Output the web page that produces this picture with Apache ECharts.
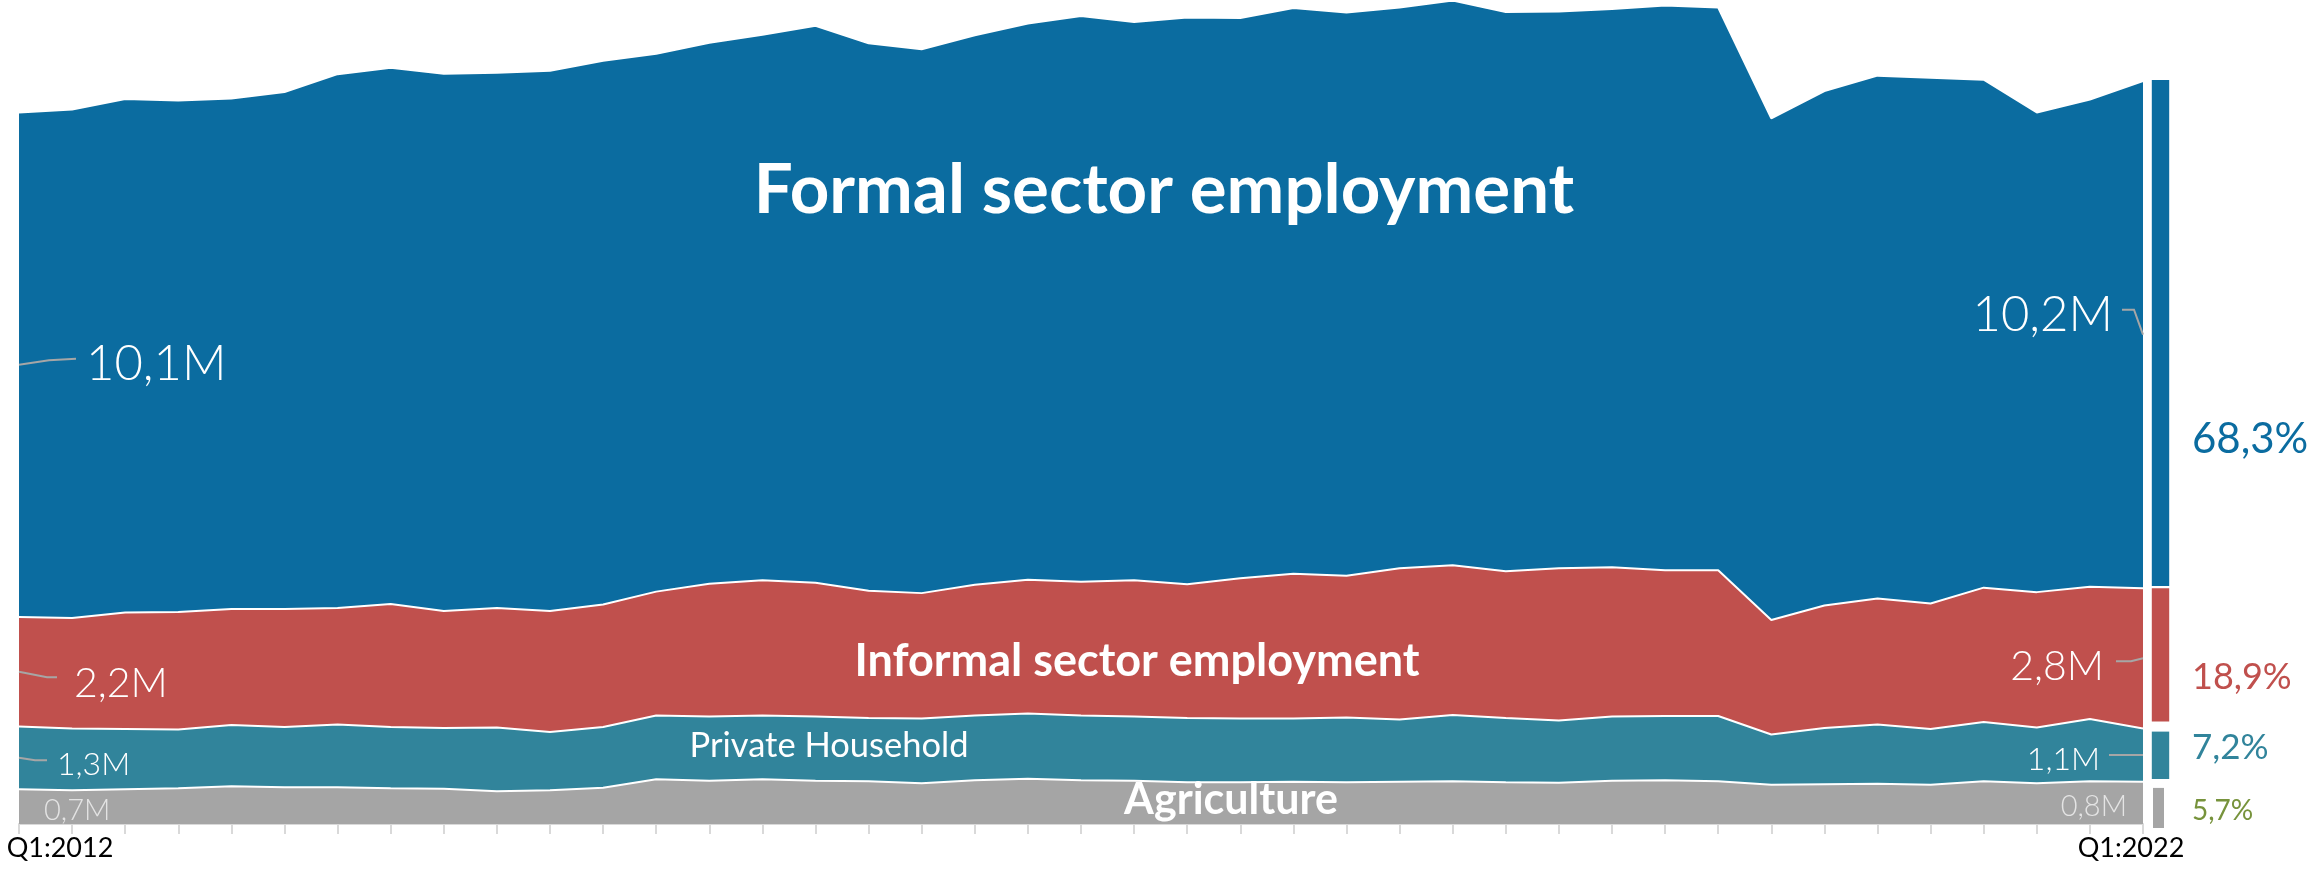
<!DOCTYPE html>
<html>
<head>
<meta charset="utf-8">
<title>Employment by sector, Q1:2012 – Q1:2022</title>
<script src="https://cdn.jsdelivr.net/npm/echarts@6/dist/echarts.min.js"></script>
<style>
  html, body { margin: 0; padding: 0; background: #ffffff; }
  #chart { width: 2310px; height: 869px; }
</style>
</head>
<body>
<div id="chart"></div>
<script>
// Quarterly employment (millions) by sector
const quarters = [
  'Q1:2012', 'Q2:2012', 'Q3:2012', 'Q4:2012',
  'Q1:2013', 'Q2:2013', 'Q3:2013', 'Q4:2013',
  'Q1:2014', 'Q2:2014', 'Q3:2014', 'Q4:2014',
  'Q1:2015', 'Q2:2015', 'Q3:2015', 'Q4:2015',
  'Q1:2016', 'Q2:2016', 'Q3:2016', 'Q4:2016',
  'Q1:2017', 'Q2:2017', 'Q3:2017', 'Q4:2017',
  'Q1:2018', 'Q2:2018', 'Q3:2018', 'Q4:2018',
  'Q1:2019', 'Q2:2019', 'Q3:2019', 'Q4:2019',
  'Q1:2020', 'Q2:2020', 'Q3:2020', 'Q4:2020',
  'Q1:2021', 'Q2:2021', 'Q3:2021', 'Q4:2021',
  'Q1:2022'
];

const formal = [
  10.14, 10.22, 10.32, 10.28, 10.26, 10.39, 10.73, 10.78, 10.80, 10.76,
  10.86, 10.93, 10.81, 10.87, 10.96, 11.19, 11.00, 10.93, 11.04, 11.18,
  11.37, 11.22, 11.39, 11.26, 11.37, 11.32, 11.27, 11.35, 11.24, 11.19,
  11.22, 11.35, 11.31, 10.08, 10.34, 10.51, 10.57, 10.21, 9.64, 9.79,
  10.19
];

const informal = [
  2.20, 2.22, 2.34, 2.36, 2.33, 2.37, 2.34, 2.47, 2.35, 2.40,
  2.43, 2.46, 2.49, 2.67, 2.72, 2.69, 2.56, 2.52, 2.63, 2.69,
  2.69, 2.74, 2.69, 2.82, 2.91, 2.85, 3.04, 3.01, 2.95, 3.06,
  3.00, 2.93, 2.93, 2.30, 2.46, 2.53, 2.52, 2.70, 2.72, 2.66,
  2.82
];

const household = [
  1.26, 1.24, 1.21, 1.18, 1.23, 1.21, 1.26, 1.23, 1.22, 1.28,
  1.17, 1.22, 1.28, 1.29, 1.28, 1.29, 1.27, 1.30, 1.30, 1.31,
  1.30, 1.29, 1.29, 1.28, 1.27, 1.30, 1.25, 1.33, 1.29, 1.25,
  1.29, 1.29, 1.31, 1.01, 1.13, 1.19, 1.12, 1.19, 1.12, 1.25,
  1.07
];

const agriculture = [
  0.70, 0.68, 0.70, 0.72, 0.76, 0.74, 0.74, 0.72, 0.71, 0.66,
  0.68, 0.73, 0.90, 0.87, 0.90, 0.87, 0.86, 0.82, 0.88, 0.91,
  0.88, 0.87, 0.84, 0.84, 0.85, 0.84, 0.85, 0.86, 0.84, 0.83,
  0.87, 0.88, 0.86, 0.79, 0.80, 0.81, 0.79, 0.86, 0.82, 0.86,
  0.85
];

const sectorNames = ['Formal sector employment', 'Informal sector employment', 'Private Household', 'Agriculture'];
// Share of total employment in Q1:2022, same order as sectorNames
const shares2022 = [68.3, 18.9, 7.2, 5.7];

const FONT = 'Lato, "Noto Sans", sans-serif';
const palette = ['#0b6ca0', '#c0504d', '#31849b', '#a5a5a5'];

// Stack layers, bottom to top
const layers = [
  { name: sectorNames[3], data: agriculture, color: palette[3], z: 6 },
  { name: sectorNames[2], data: household, color: palette[2], z: 5 },
  { name: sectorNames[1], data: informal, color: palette[1], z: 4 },
  { name: sectorNames[0], data: formal, color: palette[0], z: 3 }
];

// Share bar: segments bottom to top (indexes into shares2022)
const barOrder = [3, 2, 1, 0];
let running = 0;
const barData = barOrder.map(k => {
  const start = running;
  running += shares2022[k];
  return { value: [0, start, running, k] };
});
const barTotal = running;

// Look of each share segment and its percentage label (indexed like sectorNames)
const barLook = [
  { fill: palette[0], text: '#0b6ca0', insetTop: 0,  insetBottom: 4.4, width: 17.4, shift: 0,  size: 42, dy: 104 },
  { fill: palette[1], text: '#c0504d', insetTop: -2, insetBottom: 10,  width: 17.4, shift: 0,  size: 36, dy: 16 },
  { fill: palette[2], text: '#31849b', insetTop: 0,  insetBottom: 6.4, width: 17.4, shift: 0,  size: 35, dy: -11 },
  { fill: palette[3], text: '#77933c', insetTop: 2.5, insetBottom: 0,  width: 11,   shift: -2, size: 28, dy: 4 }
];

const fmtM = v => v.toFixed(1).replace('.', ',') + 'M';
const fmtPct = v => v.toFixed(1).replace('.', ',') + '%';

const chart = echarts.init(document.getElementById('chart'), null, { renderer: 'canvas' });

const lastIdx = quarters.length - 1;

const option = {
  backgroundColor: '#ffffff',
  animation: false,
  grid: [
    { left: 19, right: 167, top: 3, bottom: 45 },
    { left: 2140, width: 41, top: 80, bottom: 41 }
  ],
  xAxis: [
    {
      type: 'category',
      gridIndex: 0,
      data: quarters,
      boundaryGap: false,
      axisLine: { show: true, lineStyle: { color: '#d9d9d9', width: 2 } },
      axisTick: { show: true, interval: 0, length: 10, lineStyle: { color: '#d9d9d9', width: 2 } },
      splitLine: { show: false },
      axisLabel: {
        interval: (i) => i === 0 || i === lastIdx,
        margin: 11,
        color: '#000000',
        fontFamily: FONT,
        fontSize: 27,
        formatter: (v, i) => (i === 0 ? '{first|' + v + '}' : '{last|' + v + '}'),
        rich: {
          first: { padding: [0, 0, 0, 82], fontFamily: FONT, fontSize: 27, color: '#000000' },
          last: { padding: [0, 24, 0, 0], fontFamily: FONT, fontSize: 27, color: '#000000' }
        }
      }
    },
    {
      type: 'category',
      gridIndex: 1,
      data: [quarters[lastIdx]],
      show: false
    }
  ],
  yAxis: [
    { type: 'value', gridIndex: 0, min: 0, max: 16.5, show: false, splitLine: { show: false } },
    { type: 'value', gridIndex: 1, min: 0, max: barTotal, show: false, splitLine: { show: false } }
  ],
  series: layers.map(l => ({
    name: l.name,
    type: 'line',
    stack: 'employment',
    xAxisIndex: 0,
    yAxisIndex: 0,
    data: l.data,
    z: l.z,
    symbol: 'none',
    smooth: false,
    lineStyle: { color: '#ffffff', width: 2 },
    areaStyle: { color: l.color, opacity: 1 },
    itemStyle: { color: l.color },
    emphasis: { disabled: true }
  })).concat([{
    name: 'Share Q1:2022',
    type: 'custom',
    xAxisIndex: 1,
    yAxisIndex: 1,
    data: barData,
    encode: { x: 0, y: [1, 2] },
    z: 10,
    renderItem: (params, api) => {
      const k = api.value(3);
      const look = barLook[k];
      const lo = api.coord([api.value(0), api.value(1)]);
      const hi = api.coord([api.value(0), api.value(2)]);
      const top = hi[1] + look.insetTop;
      const bottom = lo[1] - look.insetBottom;
      const cx = lo[0] + look.shift;
      return {
        type: 'group',
        children: [
          {
            type: 'rect',
            shape: { x: cx - look.width / 2, y: top, width: look.width, height: bottom - top },
            style: { fill: look.fill }
          },
          {
            type: 'text',
            x: lo[0] + 31.5,
            y: (hi[1] + lo[1]) / 2 + look.dy,
            style: {
              text: fmtPct(shares2022[k]),
              fill: look.text,
              fontFamily: FONT,
              fontSize: look.size,
              align: 'left',
              verticalAlign: 'middle'
            }
          }
        ]
      };
    }
  }])
};

chart.setOption(option);

// Value call-outs at the first and last quarter, anchored to the middle of each band
function bandMiddle(layerIdx, i) {
  let base = 0;
  for (let j = 0; j < layerIdx; j++) base += layers[j].data[i];
  return chart.convertToPixel({ gridIndex: 0 }, [i, base + layers[layerIdx].data[i] / 2]);
}

const callouts = [
  { layer: 3, idx: 0, leader: [[0, 0], [30, -4.5], [57, -6]], dx: 67, dy: -1, size: 49, align: 'left', color: '#ffffff' },
  { layer: 2, idx: 0, leader: [[0, 0], [28, 5.5], [38, 5.5]], dx: 55, dy: 12, size: 41, align: 'left', color: '#ffffff' },
  { layer: 1, idx: 0, leader: [[0, 0], [16, 2.5], [28, 2.5]], dx: 38, dy: 7, size: 32, align: 'left', color: '#ffffff' },
  { layer: 0, idx: 0, leader: null, dx: 25, dy: 4, size: 29, align: 'left', color: '#e4e4e4' },
  { layer: 3, idx: lastIdx, leader: [[0, 0], [-9, -25], [-21, -25]], dx: -30, dy: -19, size: 49, align: 'right', color: '#ffffff' },
  { layer: 2, idx: lastIdx, leader: [[0, 0], [-12, 3], [-27, 3]], dx: -39, dy: 8.5, size: 41, align: 'right', color: '#ffffff' },
  { layer: 1, idx: lastIdx, leader: [[0, 0], [-34, 0]], dx: -43, dy: 5, size: 32, align: 'right', color: '#ffffff' },
  { layer: 0, idx: lastIdx, leader: null, dx: -16, dy: 3.5, size: 29, align: 'right', color: '#e4e4e4' }
];

const graphics = [];
callouts.forEach((c, n) => {
  const p = bandMiddle(c.layer, c.idx);
  if (c.leader) {
    graphics.push({
      type: 'polyline',
      id: 'leader' + n,
      z: 50,
      shape: { points: c.leader.map(q => [p[0] + q[0], p[1] + q[1]]) },
      style: { stroke: '#a6a6a6', lineWidth: 2, fill: null }
    });
  }
  graphics.push({
    type: 'text',
    id: 'value' + n,
    z: 51,
    x: p[0] + c.dx,
    y: p[1] + c.dy,
    style: {
      text: fmtM(layers[c.layer].data[c.idx]),
      fill: c.color,
      fontFamily: FONT,
      fontWeight: 300,
      fontSize: c.size,
      align: c.align,
      verticalAlign: 'middle'
    }
  });
});

// Band titles
const bandTitles = [
  { text: sectorNames[0], x: 1164, y: 191, size: 69, weight: 'bold' },
  { text: sectorNames[1], x: 1137, y: 661, size: 45, weight: 'bold' },
  { text: sectorNames[2], x: 829, y: 746, size: 34.5, weight: 'normal' },
  { text: sectorNames[3], x: 1231, y: 800, size: 43, weight: 'bold' }
];
bandTitles.forEach((t, n) => {
  graphics.push({
    type: 'text',
    id: 'title' + n,
    z: 52,
    x: t.x,
    y: t.y,
    style: {
      text: t.text,
      fill: '#ffffff',
      fontFamily: FONT,
      fontWeight: t.weight,
      fontSize: t.size,
      align: 'center',
      verticalAlign: 'middle'
    }
  });
});

chart.setOption({ graphic: graphics });
</script>
</body>
</html>
